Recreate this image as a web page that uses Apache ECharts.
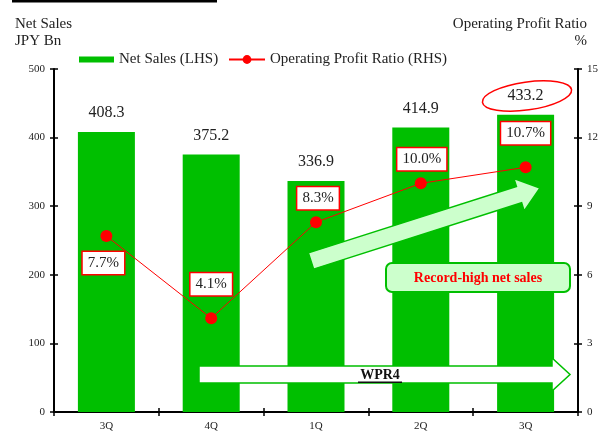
<!DOCTYPE html>
<html>
<head>
<meta charset="utf-8">
<script src="https://cdn.jsdelivr.net/npm/echarts@6/dist/echarts.min.js"></script>
<style>
html,body{margin:0;padding:0;background:#fff;}
#c{width:609px;height:434px;}
</style>
</head>
<body>
<div id="c"></div>
<script>
var categories = ['3Q', '4Q', '1Q', '2Q', '3Q'];
var netSales = [408.3, 375.2, 336.9, 414.9, 433.2];
var opRatio = [7.7, 4.1, 8.3, 10.0, 10.7];
var leftAxis = { min: 0, max: 500, interval: 100 };
var rightAxis = { min: 0, max: 15, interval: 3 };
// label offsets for ratio boxes (relative to point)
var ratioLabelOffsets = [[-3, 27], [0, -34], [2, -24], [1, -24], [0, -34]];

var FONT = "'Liberation Serif','Times New Roman',serif";
var GREEN = '#00BF00';
var LIGHT = '#CCFFCC';
var RED = '#FF0000';

var chart = echarts.init(document.getElementById('c'), null, { renderer: 'canvas' });

function yAx(pos, cfg, inside, showLabel) {
  return {
    type: 'value', position: pos, min: cfg.min, max: cfg.max, interval: cfg.interval,
    axisLine: { show: !inside, lineStyle: { color: '#000', width: 2 } },
    axisTick: { show: true, inside: inside, length: 4, lineStyle: { color: '#000', width: 1.5 } },
    axisLabel: { show: showLabel, color: '#222', fontFamily: FONT, fontSize: 11, margin: 9 },
    splitLine: { show: false }
  };
}
function xAx(inside, showLabel) {
  return {
    type: 'category', position: 'bottom', data: categories,
    axisLine: { show: !inside, onZero: false, lineStyle: { color: '#000', width: 2 } },
    axisTick: { show: true, inside: inside, length: 4, interval: 0, lineStyle: { color: '#000', width: 1.5 } },
    axisLabel: { show: showLabel, color: '#222', fontFamily: FONT, fontSize: 11, margin: 9 },
    splitLine: { show: false }
  };
}

// up-arrow polygon
function arrowPoly(T, P, w, h, L) {
  var dx = P[0] - T[0], dy = P[1] - T[1];
  var len = Math.sqrt(dx * dx + dy * dy);
  var u = [dx / len, dy / len];
  var n = [-u[1], u[0]];
  var B = [P[0] - L * u[0], P[1] - L * u[1]];
  function pt(base, k) { return [base[0] + k * n[0], base[1] + k * n[1]]; }
  return [pt(T, w), pt(B, w), pt(B, h), P, pt(B, -h), pt(B, -w), pt(T, -w)];
}

var legendText = { fontFamily: FONT, fontSize: 15, color: '#222' };

var option = {
  animation: false,
  backgroundColor: '#fff',
  textStyle: { fontFamily: FONT },
  grid: { left: 54, right: 31, top: 69, bottom: 22 },
  legend: [
    {
      top: 47, left: 74, itemWidth: 35, itemHeight: 6,
      textStyle: legendText,
      data: [{ name: 'Net Sales (LHS)', icon: 'rect' }]
    },
    {
      top: 47, left: 223, itemWidth: 36, itemHeight: 11,
      textStyle: legendText,
      data: [{ name: 'Operating Profit Ratio (RHS)' }]
    }
  ],
  xAxis: [xAx(false, true), xAx(true, false)],
  yAxis: [yAx('left', leftAxis, false, true), yAx('right', rightAxis, false, true),
          yAx('left', leftAxis, true, false), yAx('right', rightAxis, true, false)],
  series: [
    {
      name: 'Net Sales (LHS)', type: 'bar', xAxisIndex: 0, yAxisIndex: 0,
      data: netSales, barWidth: 57,
      itemStyle: { color: GREEN },
      label: { show: true, position: 'top', distance: 11, fontFamily: FONT, fontSize: 16, color: '#222',
        formatter: function (p) { return p.value.toFixed(1); } }
    },
    {
      name: 'Operating Profit Ratio (RHS)', type: 'line', xAxisIndex: 0, yAxisIndex: 1,
      data: opRatio.map(function (v, i) {
        return { value: v, label: { offset: ratioLabelOffsets[i] } };
      }),
      symbol: 'circle', symbolSize: 12,
      lineStyle: { color: RED, width: 1 },
      itemStyle: { color: RED },
      z: 5,
      label: {
        show: true, position: 'inside', fontFamily: FONT, fontSize: 15, color: '#222',
        backgroundColor: '#fff', borderColor: RED, borderWidth: 1.5, padding: [4, 5, 3, 5],
        formatter: function (p) { return p.value.toFixed(1) + '%'; }
      }
    }
  ],
  graphic: [
    { type: 'rect', shape: { x: 12, y: 0, width: 205, height: 2.5 }, style: { fill: '#000' } },
    { type: 'text', x: 15, y: 24, style: { text: 'Net Sales', font: '15px ' + FONT, fill: '#222', textVerticalAlign: 'middle' } },
    { type: 'text', x: 15, y: 41, style: { text: 'JPY Bn', font: '15px ' + FONT, fill: '#222', textVerticalAlign: 'middle' } },
    { type: 'text', x: 587, y: 24, style: { text: 'Operating Profit Ratio', font: '15px ' + FONT, fill: '#222', textAlign: 'right', textVerticalAlign: 'middle' } },
    { type: 'text', x: 587, y: 41, style: { text: '%', font: '15px ' + FONT, fill: '#222', textAlign: 'right', textVerticalAlign: 'middle' } },
    // red ellipse
    { type: 'ellipse', x: 527, y: 96, rotation: 0.14, shape: { cx: 0, cy: 0, rx: 45, ry: 14 },
      style: { fill: 'none', stroke: RED, lineWidth: 1.5 }, z: 100 },
    // green rising arrow
    { type: 'polygon', shape: { points: arrowPoly([311, 261], [540, 188], 8.5, 17, 22) },
      style: { fill: LIGHT, stroke: GREEN, lineWidth: 1.5 }, z: 100 },
    // record-high box
    { type: 'rect', shape: { x: 386, y: 263, width: 184, height: 29, r: 6 },
      style: { fill: LIGHT, stroke: GREEN, lineWidth: 2 }, z: 100 },
    { type: 'text', x: 478, y: 278, z: 101,
      style: { text: 'Record-high net sales', font: 'bold 14px ' + FONT, fill: RED, textAlign: 'center', textVerticalAlign: 'middle' } },
    // WPR4 arrow
    { type: 'polygon', shape: { points: [[199, 366], [552, 366], [552, 358], [570, 374.5], [552, 391], [552, 383], [199, 383]] },
      style: { fill: '#fff', stroke: GREEN, lineWidth: 1.5 }, z: 100 },
    { type: 'text', x: 380, y: 375, z: 101,
      style: { text: 'WPR4', font: 'bold 14px ' + FONT, fill: '#111', textAlign: 'center', textVerticalAlign: 'middle' } },
    { type: 'rect', shape: { x: 358, y: 381.5, width: 44, height: 1.5 }, style: { fill: '#111' }, z: 101 }
  ]
};
chart.setOption(option);
</script>
</body>
</html>
